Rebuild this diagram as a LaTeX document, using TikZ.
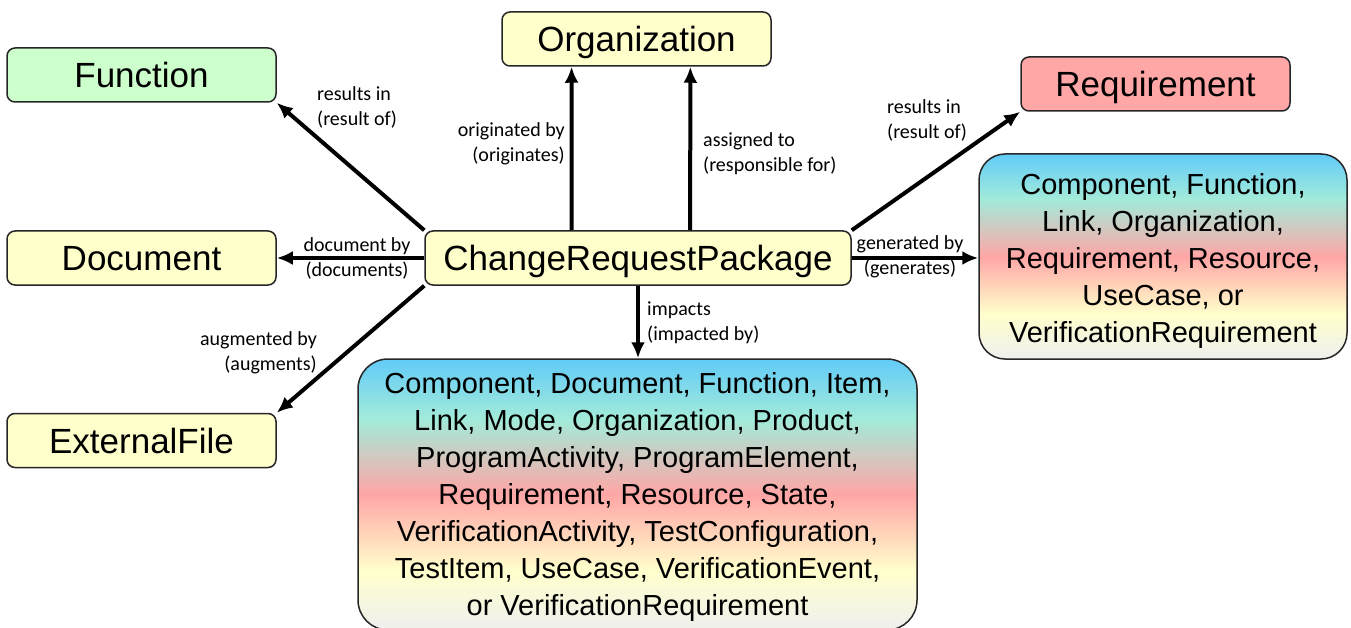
\documentclass[tikz,border=0pt]{standalone}
\usepackage{fontspec}
\setmainfont{Liberation Sans}
\newfontfamily\lblfont{Carlito}
\usetikzlibrary{arrows.meta,calc}

\definecolor{fnGreen}{HTML}{CCFFCC}
\definecolor{objYellow}{HTML}{FFFFCC}
\definecolor{reqRed}{HTML}{FFA6A6}
\definecolor{mixBlue}{HTML}{62CBF8}
\definecolor{mixAqua}{HTML}{A2EBDA}
\definecolor{mixPink}{HTML}{FFA6A6}
\definecolor{mixYellow}{HTML}{FFFFCC}
\definecolor{mixGray}{HTML}{EFEFEF}

% rainbow fill of the two list boxes (middle 50bp is what shows)
\pgfdeclareverticalshading{mixfill}{100bp}{color(0bp)=(mixGray); color(25bp)=(mixGray); color(36bp)=(mixYellow); color(50bp)=(mixPink); color(64bp)=(mixAqua); color(75bp)=(mixBlue); color(100bp)=(mixBlue)}

\tikzset{
  objbox/.style={draw=black!85, line width=1.5pt, rounded corners=8pt, minimum width=269pt, minimum height=54pt, inner sep=0pt, text height=25pt, text depth=0pt, font=\fontsize{35}{42}\selectfont},
  listbox/.style={draw=black!85, line width=1.5pt, shading=mixfill, shading angle=0, inner sep=0pt, align=center, font=\fontsize{29}{37}\selectfont},
  rel/.style={line width=4pt, -{Latex[length=16pt,width=14pt]}},
  rellbl/.style={font=\lblfont\fontsize{20}{25}\selectfont, inner sep=0pt},
}

\begin{document}
\begin{tikzpicture}[x=1pt,y=-1pt]
\useasboundingbox (0,0) rectangle (1351,628);
\clip (0,0) rectangle (1351,628);

\node[objbox,fill=fnGreen] (func) at (141.5,75) {Function};
\node[objbox,fill=objYellow] (doc) at (141.5,258) {Document};
\node[objbox,fill=objYellow] (ext) at (141.5,440.5) {ExternalFile};
\node[objbox,fill=objYellow] (org) at (636.5,39) {Organization};
\node[objbox,fill=reqRed] (req) at (1155.5,84) {Requirement};
\node[objbox,fill=objYellow,minimum width=426pt] (crp) at (638,258) {ChangeRequestPackage};
\node[listbox,rounded corners=26pt,minimum width=368pt,minimum height=205pt] (gen) at (1163,256.5) {\rule{0pt}{30pt}Component, Function,\\Link, Organization,\\Requirement, Resource,\\UseCase, or\\VerificationRequirement};
\node[listbox,rounded corners=30pt,minimum width=559pt,minimum height=271pt] (imp) at (637.5,494.5) {\rule{0pt}{27pt}Component, Document, Function, Item,\\Link, Mode, Organization, Product,\\ProgramActivity, ProgramElement,\\Requirement, Resource, State,\\VerificationActivity, TestConfiguration,\\TestItem, UseCase, VerificationEvent,\\or VerificationRequirement};

\draw[rel] (crp.north west) -- (func.south east);
\draw[rel] (crp.west) -- (doc.east);
\draw[rel] (crp.south west) -- (ext.north east);
\draw[rel] ($(crp.north west)!0.345!(crp.north east)$) -- ($(org.south west)!0.26!(org.south east)$);
\draw[rel] ($(crp.north west)!0.622!(crp.north east)$) -- ($(org.south west)!0.699!(org.south east)$);
\draw[rel] (crp.north east) -- (req.south west);
\draw[rel] (crp.east) -- (crp.east -| gen.west);
\draw[rel] (crp.south) -- (crp.south |- imp.north);

\node[rellbl,anchor=west,align=left] (lfunc) at (317,107) {results in\\(result of)};
\node[rellbl,align=center] (ldoc) at (357,258) {document by\\(documents)};
\node[rellbl,anchor=east,align=right] (lext) at (317,353) {augmented by\\(augments)};
\node[rellbl,anchor=east,align=right] (lorg1) at (565,144) {originated by\\(originates)};
\node[rellbl,anchor=west,align=left] (lorg2) at (703,154) {assigned to\\(responsible for)};
\node[rellbl,anchor=west,align=left] (lreq) at (887,120) {results in\\(result of)};
\node[rellbl,align=center] (lgen) at (910,257) {generated by\\(generates)};
\node[rellbl,anchor=west,align=left] (limp) at (647,323) {impacts\\(impacted by)};
\end{tikzpicture}
\end{document}
